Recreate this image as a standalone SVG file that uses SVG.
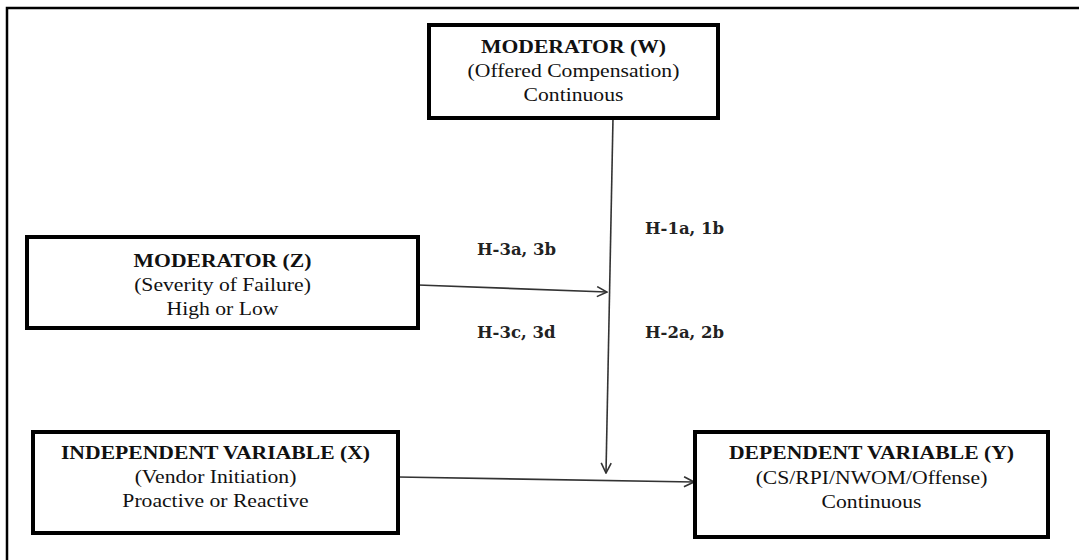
<svg xmlns="http://www.w3.org/2000/svg" width="1079" height="560" viewBox="0 0 1079 560">
<defs>
<marker id="arr" viewBox="0 0 12 12" refX="11" refY="6" markerWidth="12" markerHeight="12" markerUnits="userSpaceOnUse" orient="auto">
<path d="M1,1 L11,6 L1,11" fill="none" stroke="#333" stroke-width="1.6"/>
</marker>
<style>
.box{fill:#fff;stroke:#000;stroke-width:4}
.t{font-family:"Liberation Serif","Times New Roman",serif;font-size:19px;fill:#111;text-anchor:middle}
.b{font-weight:bold}
.h{font-family:"DejaVu Serif",serif;font-weight:bold;font-size:16.5px;fill:#222}
.c{fill:none;stroke:#333;stroke-width:1.6}
</style>
</defs>
<rect width="1079" height="560" fill="#fff"/>
<path d="M7,560 V8 H1079" fill="none" stroke="#000" stroke-width="2.5"/>
<g id="connectors">
<line class="c" x1="613" y1="118" x2="606" y2="473" marker-end="url(#arr)"/>
<line class="c" x1="418" y1="285" x2="607" y2="292" marker-end="url(#arr)"/>
<line class="c" x1="398" y1="477" x2="694" y2="482" marker-end="url(#arr)"/>
</g>
<g id="labels">
<text class="h" x="477" y="255">H-3a, 3b</text>
<text class="h" x="645" y="234">H-1a, 1b</text>
<text class="h" x="477" y="338">H-3c, 3d</text>
<text class="h" x="645" y="338">H-2a, 2b</text>
</g>
<g id="nodeW">
<rect class="box" x="429" y="25" width="289" height="93"/>
<g transform="translate(573.5,0) scale(1.14,1)">
<text class="t b" x="0" y="53">MODERATOR (W)</text>
<text class="t" x="0" y="77">(Offered Compensation)</text>
<text class="t" x="0" y="101">Continuous</text>
</g>
</g>
<g id="nodeZ">
<rect class="box" x="27" y="237" width="391" height="91"/>
<g transform="translate(222.5,0) scale(1.14,1)">
<text class="t b" x="0" y="267">MODERATOR (Z)</text>
<text class="t" x="0" y="291">(Severity of Failure)</text>
<text class="t" x="0" y="315">High or Low</text>
</g>
</g>
<g id="nodeX">
<rect class="box" x="33" y="432" width="365" height="101"/>
<g transform="translate(215.5,0) scale(1.14,1)">
<text class="t b" x="0" y="459">INDEPENDENT VARIABLE (X)</text>
<text class="t" x="0" y="483">(Vendor Initiation)</text>
<text class="t" x="0" y="507">Proactive or Reactive</text>
</g>
</g>
<g id="nodeY">
<rect class="box" x="695" y="432" width="353" height="105"/>
<g transform="translate(871.5,0) scale(1.14,1)">
<text class="t b" x="0" y="459">DEPENDENT VARIABLE (Y)</text>
<text class="t" x="0" y="484">(CS/RPI/NWOM/Offense)</text>
<text class="t" x="0" y="508">Continuous</text>
</g>
</g>
</svg>
